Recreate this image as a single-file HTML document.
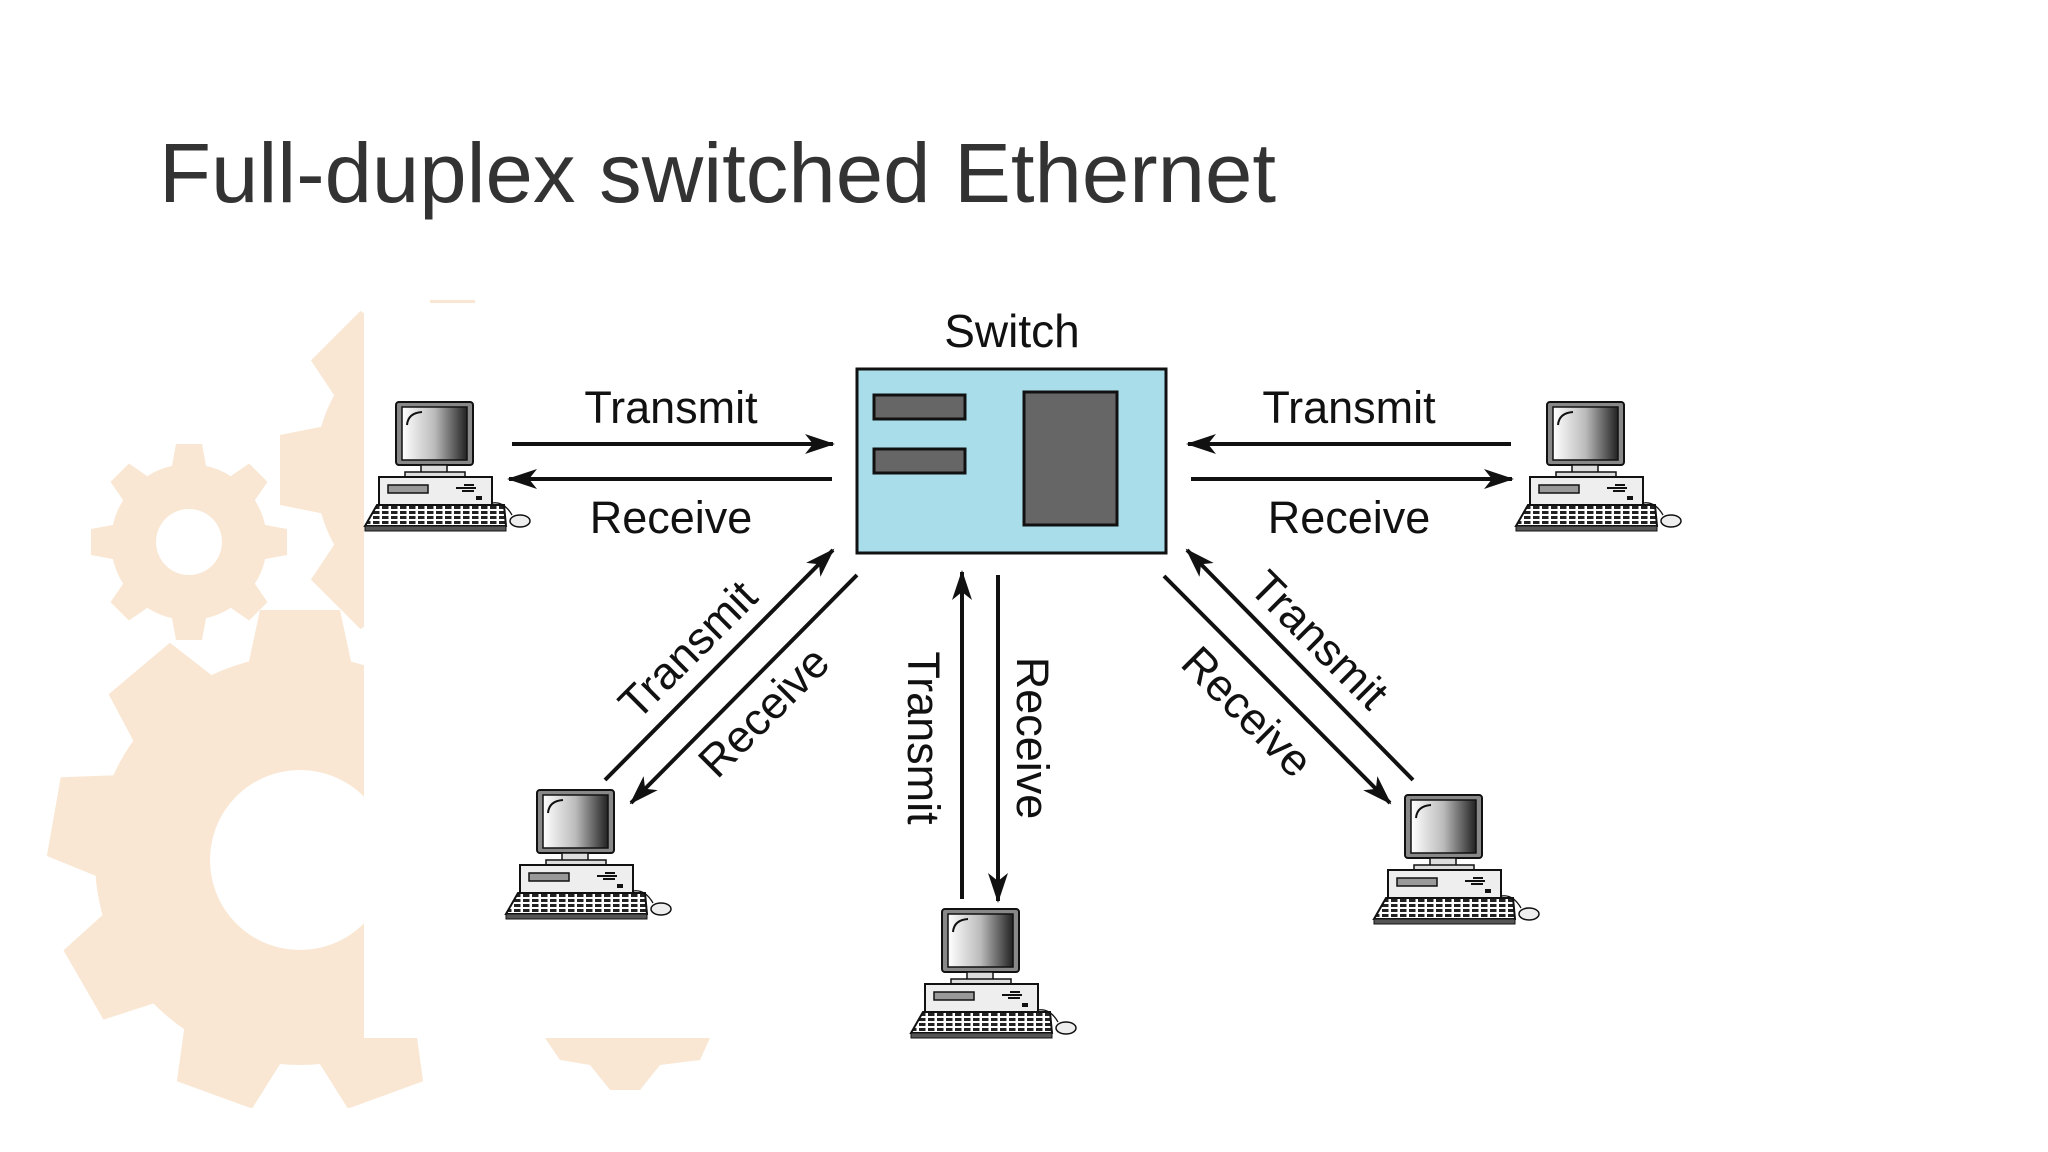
<!DOCTYPE html>
<html><head><meta charset="utf-8"><style>
html,body{margin:0;padding:0;background:#fff}
svg{display:block}
text{font-family:"Liberation Sans",sans-serif;fill:#111}
</style></head><body>
<svg width="2048" height="1152" viewBox="0 0 2048 1152" xmlns="http://www.w3.org/2000/svg">
<defs>
<linearGradient id="scr" x1="0" x2="1" y1="0" y2="0">
<stop offset="0" stop-color="#fff"/><stop offset="0.5" stop-color="#bbb"/><stop offset="1" stop-color="#222"/>
</linearGradient>
<pattern id="keys" width="9" height="5" patternUnits="userSpaceOnUse">
<rect width="9" height="5" fill="#fff"/><rect x="0" y="0" width="6.5" height="3" fill="#222"/>
</pattern>
<g id="pc">
<rect x="32" y="1" width="77" height="63" rx="3" fill="#888" stroke="#111" stroke-width="2"/>
<rect x="38" y="6" width="65" height="53" fill="url(#scr)" stroke="#111" stroke-width="1.5"/>
<path d="M43 24 Q44 12 58 11" stroke="#111" stroke-width="2" fill="none"/>
<rect x="57" y="64" width="26" height="8" fill="#ddd" stroke="#111" stroke-width="1.5"/>
<rect x="41" y="71" width="60" height="5" fill="#ddd" stroke="#111" stroke-width="1.5"/>
<rect x="15" y="76" width="113" height="28" fill="#eee" stroke="#111" stroke-width="2"/>
<rect x="24" y="84" width="40" height="8" fill="#999" stroke="#111" stroke-width="1.5"/>
<path d="M92 87 H112 M100 84 H110 M98 90 H110" stroke="#111" stroke-width="2"/>
<rect x="112" y="95" width="6" height="4" fill="#111"/>
<path d="M13 104 H140 L142 125 H1 Z" fill="url(#keys)" stroke="#111" stroke-width="2"/>
<rect x="1" y="125" width="141" height="5" fill="#555" stroke="#111" stroke-width="1"/>
<path d="M128 102 Q140 100 148 114" stroke="#111" stroke-width="1.3" fill="none"/>
<ellipse cx="156" cy="120" rx="10" ry="6" fill="#eee" stroke="#111" stroke-width="1.5"/>
</g>
<marker id="ah" viewBox="0 0 30 20" refX="28" refY="10" markerWidth="30" markerHeight="20" markerUnits="userSpaceOnUse" orient="auto">
<path d="M0 0 L30 10 L0 20 L8 10 Z" fill="#111"/>
</marker>
</defs>

<!-- background gears -->
<g fill="#f9e7d3">
<g transform="translate(189,542)">
<circle r="78"/>
<g id="t1"><path d="M-20 -60 L-13 -98 L13 -98 L20 -60 Z"/></g>
<use href="#t1" transform="rotate(45)"/><use href="#t1" transform="rotate(90)"/><use href="#t1" transform="rotate(135)"/>
<use href="#t1" transform="rotate(180)"/><use href="#t1" transform="rotate(225)"/><use href="#t1" transform="rotate(270)"/><use href="#t1" transform="rotate(315)"/>
<circle r="33" fill="#fff"/>
</g>
<g transform="translate(300,860)">
<circle r="205"/>
<g id="t2"><path d="M-55 -180 L-40 -250 L40 -250 L55 -180 Z"/></g>
<use href="#t2" transform="rotate(40)"/><use href="#t2" transform="rotate(80)"/><use href="#t2" transform="rotate(120)"/>
<use href="#t2" transform="rotate(160)"/><use href="#t2" transform="rotate(200)"/><use href="#t2" transform="rotate(240)"/><use href="#t2" transform="rotate(280)"/><use href="#t2" transform="rotate(320)"/>
<circle r="90" fill="#fff"/>
</g>
<g transform="translate(470,470)">
<circle r="155"/>
<path d="M-45 -140 L-35 -190 L35 -190 L45 -140 Z" transform="rotate(-45)"/>
<path d="M-45 -140 L-35 -190 L35 -190 L45 -140 Z" transform="rotate(-90)"/>
<path d="M-45 -140 L-35 -190 L35 -190 L45 -140 Z" transform="rotate(-135)"/>
</g>
<rect x="430" y="300" width="45" height="3"/>
<path d="M545 1038 L710 1038 L700 1060 L660 1065 L640 1090 L610 1090 L590 1065 L560 1060 Z"/>
</g>
<rect x="364" y="303" width="1684" height="735" fill="#fff"/>
<rect x="0" y="1108" width="2048" height="44" fill="#fff"/>

<text x="159" y="202" font-size="84" textLength="1117" lengthAdjust="spacingAndGlyphs" style="fill:#333">Full-duplex switched Ethernet</text>

<!-- switch -->
<text x="1012" y="347" font-size="46" text-anchor="middle">Switch</text>
<rect x="857" y="369" width="309" height="184" fill="#a8dde9" stroke="#111" stroke-width="3"/>
<rect x="874" y="395" width="91" height="24" fill="#666" stroke="#111" stroke-width="3"/>
<rect x="874" y="449" width="91" height="24" fill="#666" stroke="#111" stroke-width="3"/>
<rect x="1024" y="392" width="93" height="133" fill="#666" stroke="#111" stroke-width="3"/>

<!-- computers -->
<use href="#pc" transform="translate(364,401)"/>
<use href="#pc" transform="translate(1515,401)"/>
<use href="#pc" transform="translate(505,789)"/>
<use href="#pc" transform="translate(910,908)"/>
<use href="#pc" transform="translate(1373,794)"/>

<!-- arrows -->
<g stroke="#111" stroke-width="4" fill="none" marker-end="url(#ah)">
<line x1="512" y1="444" x2="833" y2="444"/>
<line x1="832" y1="479" x2="509" y2="479"/>
<line x1="1511" y1="444" x2="1188" y2="444"/>
<line x1="1191" y1="479" x2="1512" y2="479"/>
<line x1="605" y1="780" x2="833" y2="550"/>
<line x1="857" y1="575" x2="631" y2="803"/>
<line x1="962" y1="899" x2="962" y2="572"/>
<line x1="998" y1="575" x2="998" y2="901"/>
<line x1="1413" y1="780" x2="1187" y2="550"/>
<line x1="1164" y1="576" x2="1390" y2="803"/>
</g>

<g font-size="45" text-anchor="middle">
<text x="671" y="423">Transmit</text>
<text x="671" y="533">Receive</text>
<text x="1349" y="423">Transmit</text>
<text x="1349" y="533">Receive</text>
<text transform="translate(688,650) rotate(-45)" y="15">Transmit</text>
<text transform="translate(764,712) rotate(-45)" y="15">Receive</text>
<text transform="translate(923,738) rotate(90)" y="15">Transmit</text>
<text transform="translate(1032,738) rotate(90)" y="15">Receive</text>
<text transform="translate(1319,640) rotate(45)" y="15">Transmit</text>
<text transform="translate(1247,712) rotate(45)" y="15">Receive</text>
</g>
</svg>
</body></html>
